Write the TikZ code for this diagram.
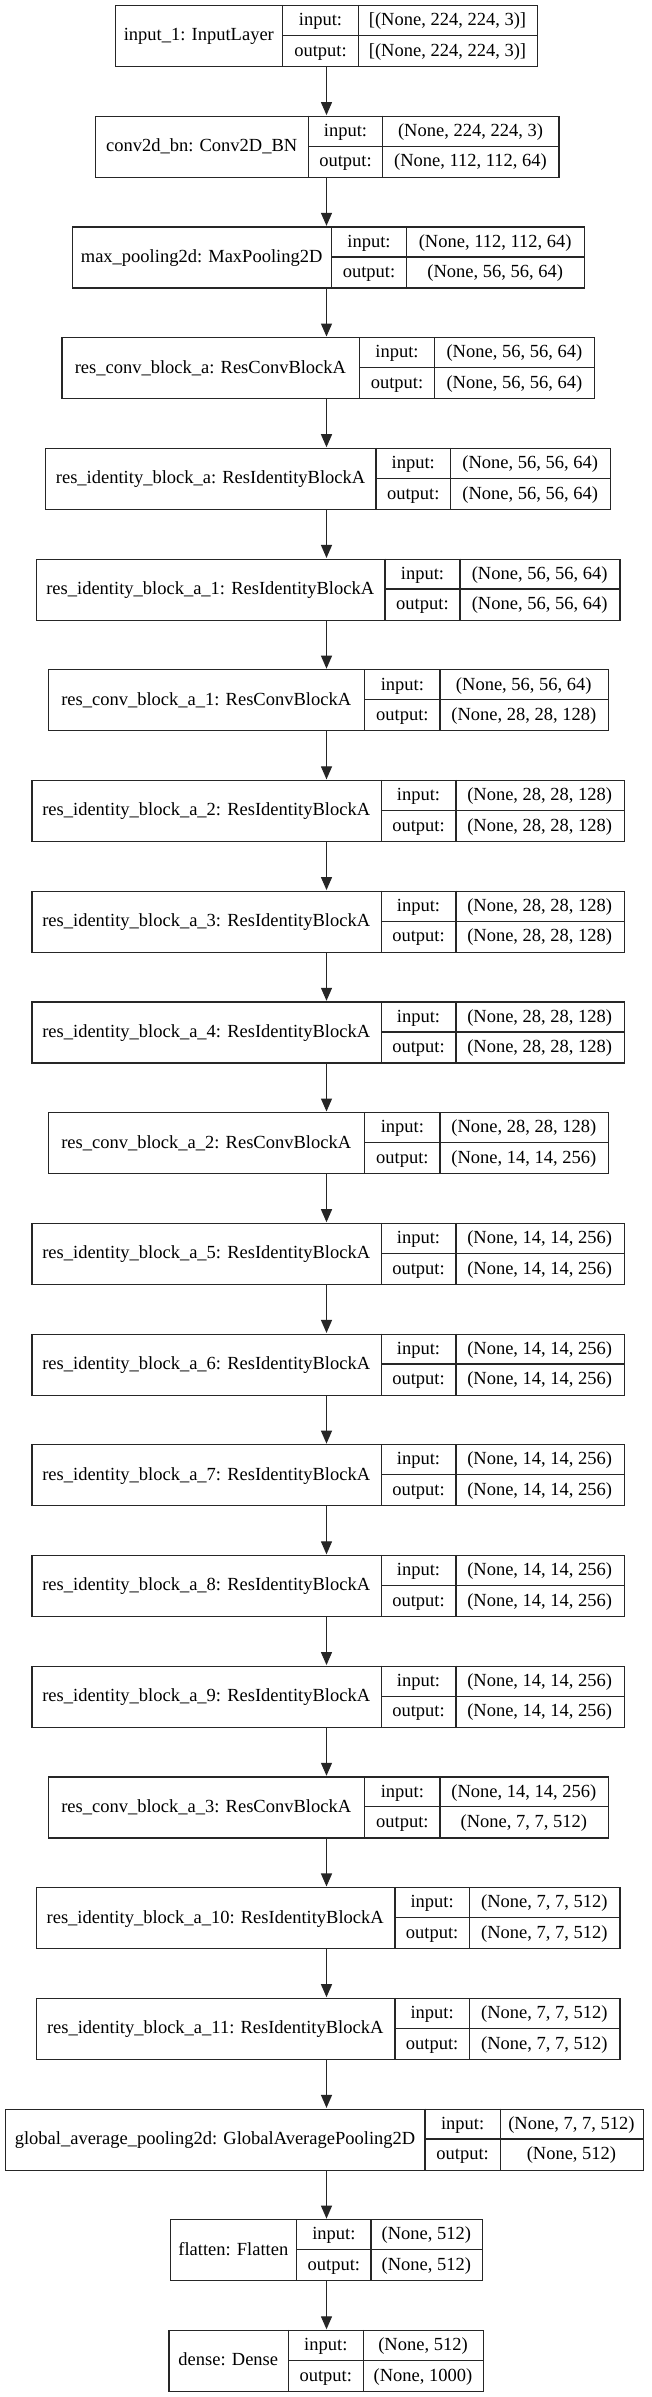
\documentclass[tikz,border=0pt]{standalone}
\usepackage{fontspec}
\setmainfont{Liberation Serif}
\usetikzlibrary{arrows.meta}
\tikzset{
  boxframe/.style={draw=black!85, line width=1.2pt, inner sep=0pt, anchor=north west},
  cellline/.style={draw=black!85, line width=1.2pt},
  txt/.style={inner sep=0pt, anchor=base, font=\fontsize{18.5}{20}\selectfont, text=black},
  arr/.style={draw=black!85, line width=1.2pt, -{Triangle[length=13pt,width=11pt]}, shorten >=0.6pt}
}
\newcommand\layerbox[9]{%
  \pgfmathsetmacro\lytop{5+(#2-1)*110.71}%
  \pgfmathsetmacro\lybot{\lytop+61}%
  \pgfmathsetmacro\lymid{\lytop+30.5}%
  \pgfmathsetmacro\lboxw{#6-#3}%
  \node[boxframe, minimum width=\lboxw pt, minimum height=61pt] (#1) at (#3,\lytop) {};
  \draw[cellline] (#4,\lytop) -- (#4,\lybot);
  \draw[cellline] (#5,\lytop) -- (#5,\lybot);
  \draw[cellline] (#4,\lymid) -- (#6,\lymid);
  \node[txt] (#1l) at ({(#3+#4)/2},{\lymid+5.5}) {#7};
  \node[txt] (#1i) at ({(#4+#5)/2},{\lytop+15.25+5.5}) {input:};
  \node[txt] (#1o) at ({(#4+#5)/2},{\lytop+45.75+5.5}) {output:};
  \node[txt] (#1iv) at ({(#5+#6)/2},{\lytop+15.25+5.5}) {#8};
  \node[txt] (#1ov) at ({(#5+#6)/2},{\lytop+45.75+5.5}) {#9};
}
\begin{document}
\begin{tikzpicture}[x=1pt,y=-1pt]
\fill[white] (0,0) rectangle (652,2397);
\useasboundingbox (0,0) rectangle (652,2397);
\coordinate (ax) at (326.5,0);
\layerbox{b1}{1}{115}{282.7}{358.3}{536.7}{input\_1: InputLayer}{[(None, 224, 224, 3)]}{[(None, 224, 224, 3)]}
\layerbox{b2}{2}{95}{308.3}{382.7}{558.3}{conv2d\_bn: Conv2D\_BN}{(None, 224, 224, 3)}{(None, 112, 112, 64)}
\layerbox{b3}{3}{71.9}{331.4}{406.6}{583.8}{max\_pooling2d: MaxPooling2D}{(None, 112, 112, 64)}{(None, 56, 56, 64)}
\layerbox{b4}{4}{61.4}{359.4}{434.6}{594.2}{res\_conv\_block\_a: ResConvBlockA}{(None, 56, 56, 64)}{(None, 56, 56, 64)}
\layerbox{b5}{5}{45.1}{376}{450.5}{610}{res\_identity\_block\_a: ResIdentityBlockA}{(None, 56, 56, 64)}{(None, 56, 56, 64)}
\layerbox{b6}{6}{35.5}{384.9}{460}{619.3}{res\_identity\_block\_a\_1: ResIdentityBlockA}{(None, 56, 56, 64)}{(None, 56, 56, 64)}
\layerbox{b7}{7}{47.6}{364.8}{440}{607.6}{res\_conv\_block\_a\_1: ResConvBlockA}{(None, 56, 56, 64)}{(None, 28, 28, 128)}
\layerbox{b8}{8}{31.3}{381.1}{455.9}{623.5}{res\_identity\_block\_a\_2: ResIdentityBlockA}{(None, 28, 28, 128)}{(None, 28, 28, 128)}
\layerbox{b9}{9}{31.3}{381.1}{455.9}{623.5}{res\_identity\_block\_a\_3: ResIdentityBlockA}{(None, 28, 28, 128)}{(None, 28, 28, 128)}
\layerbox{b10}{10}{31.3}{381.1}{455.9}{623.5}{res\_identity\_block\_a\_4: ResIdentityBlockA}{(None, 28, 28, 128)}{(None, 28, 28, 128)}
\layerbox{b11}{11}{47.6}{364.8}{440}{607.6}{res\_conv\_block\_a\_2: ResConvBlockA}{(None, 28, 28, 128)}{(None, 14, 14, 256)}
\layerbox{b12}{12}{31.3}{381.1}{455.9}{623.5}{res\_identity\_block\_a\_5: ResIdentityBlockA}{(None, 14, 14, 256)}{(None, 14, 14, 256)}
\layerbox{b13}{13}{31.3}{381.1}{455.9}{623.5}{res\_identity\_block\_a\_6: ResIdentityBlockA}{(None, 14, 14, 256)}{(None, 14, 14, 256)}
\layerbox{b14}{14}{31.3}{381.1}{455.9}{623.5}{res\_identity\_block\_a\_7: ResIdentityBlockA}{(None, 14, 14, 256)}{(None, 14, 14, 256)}
\layerbox{b15}{15}{31.3}{381.1}{455.9}{623.5}{res\_identity\_block\_a\_8: ResIdentityBlockA}{(None, 14, 14, 256)}{(None, 14, 14, 256)}
\layerbox{b16}{16}{31.3}{381.1}{455.9}{623.5}{res\_identity\_block\_a\_9: ResIdentityBlockA}{(None, 14, 14, 256)}{(None, 14, 14, 256)}
\layerbox{b17}{17}{47.6}{364.8}{440}{607.6}{res\_conv\_block\_a\_3: ResConvBlockA}{(None, 14, 14, 256)}{(None, 7, 7, 512)}
\layerbox{b18}{18}{35.5}{394.9}{469.3}{619.3}{res\_identity\_block\_a\_10: ResIdentityBlockA}{(None, 7, 7, 512)}{(None, 7, 7, 512)}
\layerbox{b19}{19}{35.5}{394.9}{469.3}{619.3}{res\_identity\_block\_a\_11: ResIdentityBlockA}{(None, 7, 7, 512)}{(None, 7, 7, 512)}
\layerbox{b20}{20}{5}{425}{500.2}{642.7}{global\_average\_pooling2d: GlobalAveragePooling2D}{(None, 7, 7, 512)}{(None, 512)}
\layerbox{b21}{21}{170}{296.7}{371}{481.7}{flatten: Flatten}{(None, 512)}{(None, 512)}
\layerbox{b22}{22}{168.3}{288.3}{363.3}{482.7}{dense: Dense}{(None, 512)}{(None, 1000)}
\foreach \a/\b in {b1/b2,b2/b3,b3/b4,b4/b5,b5/b6,b6/b7,b7/b8,b8/b9,b9/b10,b10/b11,b11/b12,b12/b13,b13/b14,b14/b15,b15/b16,b16/b17,b17/b18,b18/b19,b19/b20,b20/b21,b21/b22}
  \draw[arr] (\a.south -| ax) -- (\b.north -| ax);
\end{tikzpicture}
\end{document}
